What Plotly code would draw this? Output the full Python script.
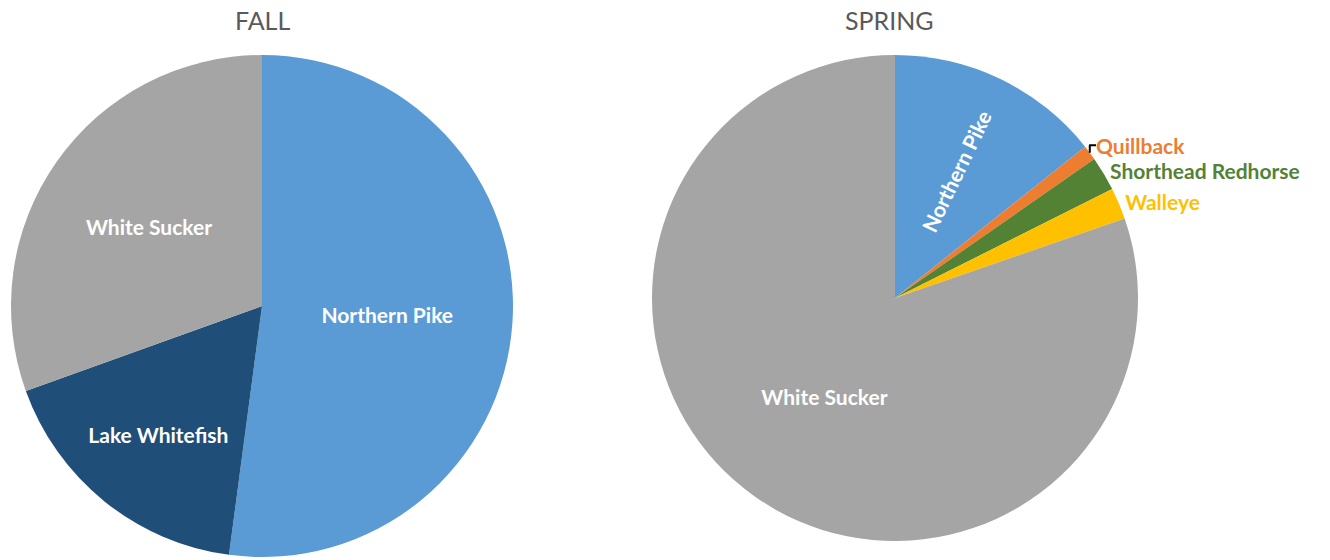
import plotly.graph_objects as go

fall_labels = ["Northern Pike", "Lake Whitefish", "White Sucker"]
fall_values = [52.1, 17.4, 30.5]
fall_colors = ["#5B9BD5", "#1F4E79", "#A5A5A5"]

spring_labels = ["Northern Pike", "Quillback", "Shorthead Redhorse", "Walleye", "White Sucker"]
spring_values = [14.3, 1.0, 2.3, 2.1, 80.3]
spring_colors = ["#5B9BD5", "#ED7D31", "#548235", "#FFC000", "#A5A5A5"]

W, H = 1330, 560
FONT = "Lato"
FS = 21

fall_dom = dict(x=[(262 - 251) / W, (262 + 251) / W], y=[1 - (306 + 251) / H, 1 - (306 - 251) / H])
spring_dom = dict(x=[(895 - 243) / W, (895 + 243) / W], y=[1 - (298 + 243) / H, 1 - (298 - 243) / H])

fig = go.Figure()

fig.add_trace(go.Pie(
    labels=fall_labels, values=fall_values,
    marker=dict(colors=fall_colors, line=dict(width=0)),
    sort=False, direction="clockwise", rotation=0,
    textinfo="label", textposition="inside",
    insidetextorientation="horizontal",
    textfont=dict(family=FONT, size=FS, color="white", weight="bold"),
    domain=fall_dom,
    hoverinfo="label+percent", showlegend=False,
))

# spring: horizontal labels (all but Northern Pike)
spring_pos = ["inside", "outside", "outside", "outside", "inside"]
spring_font_colors = ["white", "#ED7D31", "#548235", "#FFC000", "white"]
spring_text_main = ["" if i == 0 else lab for i, lab in enumerate(spring_labels)]
fig.add_trace(go.Pie(
    labels=spring_labels, values=spring_values,
    marker=dict(colors=spring_colors, line=dict(width=0)),
    sort=False, direction="clockwise", rotation=0,
    text=spring_text_main, textinfo="text", textposition=spring_pos,
    insidetextorientation="horizontal",
    textfont=dict(family=FONT, size=FS, color=spring_font_colors, weight="bold"),
    outsidetextfont=dict(family=FONT, size=FS, color=spring_font_colors, weight="bold"),
    domain=spring_dom,
    hoverinfo="label+percent", showlegend=False,
    automargin=False,
))

# spring: radial label for Northern Pike (transparent overlay of the same pie)
spring_text_radial = [lab if i == 0 else "" for i, lab in enumerate(spring_labels)]
fig.add_trace(go.Pie(
    labels=spring_labels, values=spring_values,
    marker=dict(colors=["rgba(0,0,0,0)"] * len(spring_labels), line=dict(width=0)),
    sort=False, direction="clockwise", rotation=0,
    text=spring_text_radial, textinfo="text", textposition="inside",
    insidetextorientation="radial",
    textfont=dict(family=FONT, size=FS, color="white", weight="bold"),
    domain=spring_dom,
    hoverinfo="skip", showlegend=False,
    automargin=False,
))

fig.update_layout(
    width=W, height=H,
    margin=dict(l=0, r=0, t=0, b=0),
    paper_bgcolor="white", plot_bgcolor="white",
    font=dict(family=FONT),
    annotations=[
        dict(text="FALL", x=262 / W, y=1 - 20 / H, xref="paper", yref="paper",
             showarrow=False, font=dict(family=FONT, size=25, color="#595959"), xanchor="center", yanchor="middle"),
        dict(text="SPRING", x=889 / W, y=1 - 20 / H, xref="paper", yref="paper",
             showarrow=False, font=dict(family=FONT, size=25, color="#595959"), xanchor="center", yanchor="middle"),
    ],
)

fig.write_html("out.html")
